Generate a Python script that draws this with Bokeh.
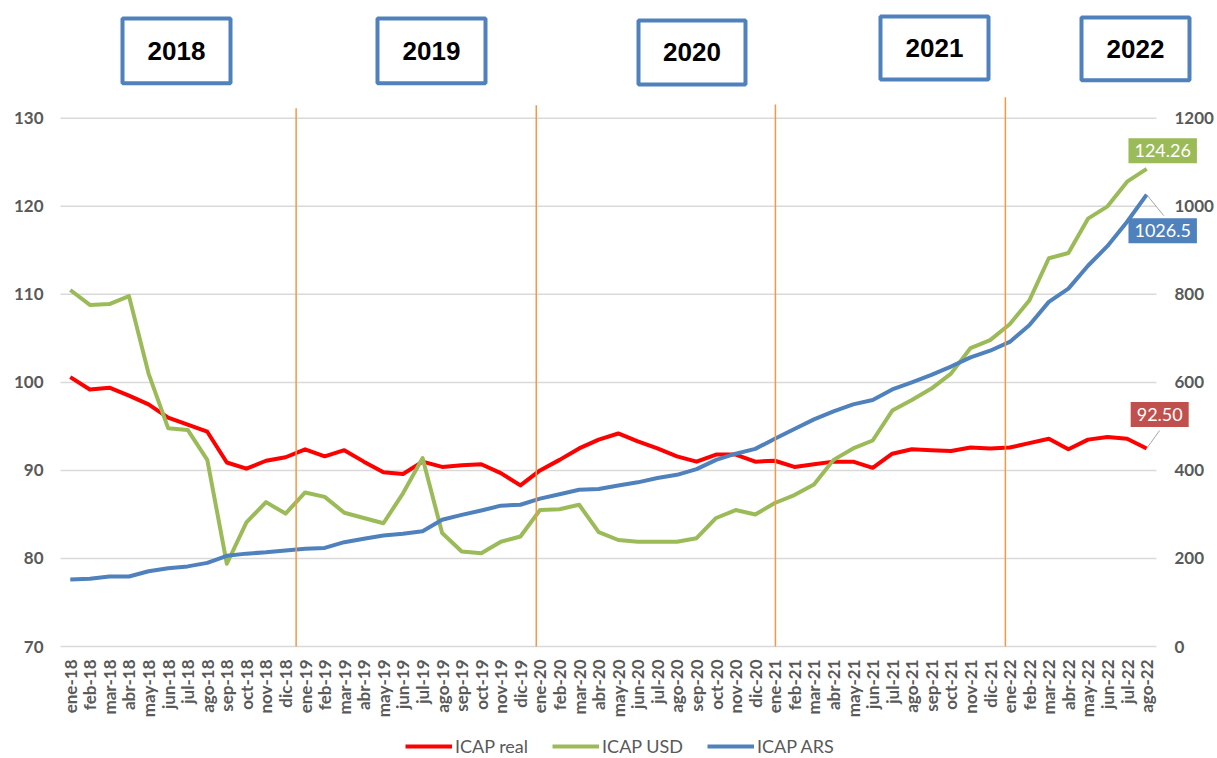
import numpy as np
from bokeh.plotting import figure
from bokeh.models import (Range1d, FixedTicker, Legend, LegendItem,
                          Label, Arrow, ColumnDataSource)
from bokeh.layouts import column
from bokeh.embed import file_html
from bokeh.resources import INLINE
from bokeh.core.properties import value

# ---------------- data ----------------
months = ["ene-18", "feb-18", "mar-18", "abr-18", "may-18", "jun-18", "jul-18", "ago-18",
          "sep-18", "oct-18", "nov-18", "dic-18",
          "ene-19", "feb-19", "mar-19", "abr-19", "may-19", "jun-19", "jul-19", "ago-19",
          "sep-19", "oct-19", "nov-19", "dic-19",
          "ene-20", "feb-20", "mar-20", "abr-20", "may-20", "jun-20", "jul-20", "ago-20",
          "sep-20", "oct-20", "nov-20", "dic-20",
          "ene-21", "feb-21", "mar-21", "abr-21", "may-21", "jun-21", "jul-21", "ago-21",
          "sep-21", "oct-21", "nov-21", "dic-21",
          "ene-22", "feb-22", "mar-22", "abr-22", "may-22", "jun-22", "jul-22", "ago-22"]

icap_real = [100.6, 99.2, 99.4, 98.5, 97.5, 96.0, 95.2, 94.4, 90.9, 90.2, 91.1, 91.5,
             92.4, 91.6, 92.3, 91.0, 89.8, 89.6, 91.0, 90.4, 90.6, 90.7, 89.7, 88.3,
             90.0, 91.2, 92.5, 93.5, 94.2, 93.3, 92.5, 91.6, 91.0, 91.8, 91.8, 91.0,
             91.1, 90.4, 90.7, 91.0, 91.0, 90.3, 91.9, 92.4, 92.3, 92.2, 92.6, 92.5,
             92.6, 93.1, 93.6, 92.4, 93.5, 93.8, 93.6, 92.50]

icap_usd = [110.5, 108.8, 108.9, 109.8, 101.0, 94.8, 94.6, 91.2, 79.4, 84.1, 86.4, 85.1,
            87.5, 87.0, 85.2, 84.6, 84.0, 87.4, 91.4, 82.9, 80.8, 80.6, 81.9, 82.5,
            85.5, 85.6, 86.1, 83.0, 82.1, 81.9, 81.9, 81.9, 82.3, 84.6, 85.5, 85.0,
            86.3, 87.2, 88.4, 91.2, 92.5, 93.4, 96.8, 98.0, 99.3, 101.0, 103.9, 104.8,
            106.6, 109.3, 114.1, 114.7, 118.6, 120.0, 122.8, 124.26]

icap_ars = [152, 154, 159, 159, 171, 178, 182, 190, 206, 211, 214, 218,
            222, 224, 237, 245, 252, 256, 262, 288, 299, 309, 320, 322,
            336, 346, 356, 358, 366, 373, 383, 390, 403, 424, 438, 449,
            472, 494, 516, 534, 550, 560, 584, 600, 617, 636, 657, 672,
            692, 730, 783, 813, 865, 910, 965, 1026.5]

series_names = ["ICAP real", "ICAP USD", "ICAP ARS"]
years = ["2018", "2019", "2020", "2021", "2022"]

left_ticks = [70, 80, 90, 100, 110, 120, 130]
right_ticks = [0, 200, 400, 600, 800, 1000, 1200]

# ---------------- layout constants ----------------
W = 1217
FRAME_H = 657          # plot frame: top of page down to just under the 70 line
BOTTOM = 63            # room for the month labels
MAIN_H = FRAME_H + BOTTOM
LEG_H = 38
FONT = "Lato"
GRAY = "#595959"
RED, GREEN, BLUE, ORANGE = "#ff0000", "#9bbb59", "#4f81bd", "#f79646"
COLORS = [RED, GREEN, BLUE]
PX_X = 19.571          # px per category
PX_Y = 8.817           # px per left-axis unit
Y_TOP = 70 + 647 / PX_Y
Y_BOT = 70 - 10 / PX_Y
X_START = -0.5 - 60 / PX_X
X_END = X_START + W / PX_X
ARS_PER_UNIT = 1200 / 60

# year boxes (category / left-axis units)
box_left = [2.668, 15.697, 29.033, 41.398, 51.669]
box_right = [8.186, 21.216, 34.50, 46.917, 57.187]
box_top = [141.34, 141.34, 141.11, 141.57, 141.45]
box_bottom = [133.97, 133.97, 133.85, 134.42, 134.31]

# hand-drawn separators (category position, top value)
sep_x = [11.54, 23.81, 36.03, 47.78]
sep_top = [131.13, 131.47, 131.58, 132.38]

# ---------------- main figure ----------------
p = figure(width=W, height=MAIN_H, x_range=Range1d(X_START, X_END),
           y_range=Range1d(Y_BOT, Y_TOP),
           toolbar_location=None, output_backend="svg", y_axis_location=None,
           min_border_left=0, min_border_right=0, min_border_top=0,
           min_border_bottom=BOTTOM)
p.outline_line_color = None
p.extra_y_ranges = {"ars": Range1d((Y_BOT - 70) * ARS_PER_UNIT, (Y_TOP - 70) * ARS_PER_UNIT)}
p.grid.visible = False

x = list(range(len(months)))
n = len(months)

# gridlines over the plot area only (70 line doubles as the category axis line)
p.segment(x0=[-0.5] * len(left_ticks), x1=[n - 0.5] * len(left_ticks),
          y0=left_ticks, y1=left_ticks, line_color="#d9d9d9", line_width=1.5)

# value-axis labels at the edges of the plot area
tick_style = dict(text_font=value(FONT), text_font_size="17px", text_font_style="bold",
                  text_color=GRAY, text_baseline="middle")
p.text(x=[-0.5] * len(left_ticks), y=left_ticks, text=[str(t) for t in left_ticks],
       x_offset=-17, text_align="right", **tick_style)
p.text(x=[n - 0.5] * len(right_ticks), y=right_ticks, text=[str(t) for t in right_ticks],
       y_range_name="ars", x_offset=18, text_align="left", **tick_style)

# category axis
p.xaxis.ticker = FixedTicker(ticks=x)
p.xaxis.major_label_overrides = {i: m for i, m in zip(x, months)}
p.xaxis.major_label_orientation = np.pi / 2
p.xaxis.axis_line_color = None
p.xaxis.major_tick_line_color = None
p.xaxis.minor_tick_line_color = None
p.xaxis.major_tick_out = 0
p.xaxis.major_tick_in = 0
p.xaxis.minor_tick_out = 0
p.xaxis.major_label_standoff = 3
p.xaxis.major_label_text_font = FONT
p.xaxis.major_label_text_font_size = "17px"
p.xaxis.major_label_text_font_style = "bold"
p.xaxis.major_label_text_color = GRAY

# series
src = ColumnDataSource(dict(x=x, real=icap_real, usd=icap_usd, ars=icap_ars))
p.line("x", "real", source=src, color=RED, line_width=4, line_join="round")
p.line("x", "usd", source=src, color=GREEN, line_width=4, line_join="round")
p.line("x", "ars", source=src, color=BLUE, line_width=4, line_join="round",
       y_range_name="ars")

# separators
p.segment(x0=sep_x, y0=[70] * len(sep_x), x1=sep_x, y1=sep_top, color=ORANGE, line_width=1.5)

# year boxes
p.quad(left=box_left, right=box_right, top=box_top, bottom=box_bottom,
       fill_color="white", line_color=BLUE, line_width=4)
cx = [(a + b) / 2 for a, b in zip(box_left, box_right)]
cy = [(a + b) / 2 for a, b in zip(box_top, box_bottom)]
p.text(x=cx, y=cy, text=years, text_font=value("Liberation Sans"),
       text_font_style="bold", text_font_size="26px", text_color="black",
       text_align="center", text_baseline="middle")

# data labels with leader lines
last = n - 1
p.add_layout(Arrow(end=None, x_start=last, y_start=icap_real[-1], x_end=last + 0.66,
                   y_end=icap_real[-1] + 2.04, line_color="#a6a6a6", line_width=1))
p.add_layout(Arrow(end=None, x_start=last, y_start=icap_ars[-1], x_end=last + 0.87,
                   y_end=icap_ars[-1] - 47.6, line_color="#a6a6a6", line_width=1,
                   y_range_name="ars"))

def data_label(xv, yv, txt, bg, xo, yo, rng="default"):
    lab = Label(x=xv, y=yv, text=txt, x_offset=xo, y_offset=yo, text_align="center",
                text_baseline="middle", text_font=FONT, text_font_size="18px",
                text_color="white", background_fill_color=bg, padding=6,
                y_range_name=rng)
    p.add_layout(lab)

data_label(last, icap_usd[-1], f"{icap_usd[-1]:.2f}", GREEN, 16, 18)
data_label(last, icap_ars[-1], f"{icap_ars[-1]:.1f}", BLUE, 16, -36, "ars")
data_label(last, icap_real[-1], f"{icap_real[-1]:.2f}", "#c0504d", 13, 34)

# ---------------- legend strip ----------------
lg = figure(width=W, height=LEG_H, x_range=Range1d(0, 1), y_range=Range1d(0, 1),
            toolbar_location=None, output_backend="svg", min_border=0,
            x_axis_location=None, y_axis_location=None)
lg.grid.visible = False
lg.outline_line_color = None
items = []
for name, col in zip(series_names, COLORS):
    proxy = ColumnDataSource(dict(x=np.array([np.nan]), y=np.array([np.nan])))
    r = lg.line("x", "y", source=proxy, color=col, line_width=4)
    items.append(LegendItem(label=name, renderers=[r]))
legend = Legend(items=items, orientation="horizontal", location=(405, 1),
                label_text_font=FONT, label_text_font_size="18px", label_text_color=GRAY,
                glyph_width=47, glyph_height=20, label_standoff=3, spacing=24,
                padding=0, margin=0, border_line_color=None, background_fill_alpha=0)
lg.add_layout(legend, "center")

layout = column(p, lg)
open("out.html", "w").write(file_html(layout, INLINE))
